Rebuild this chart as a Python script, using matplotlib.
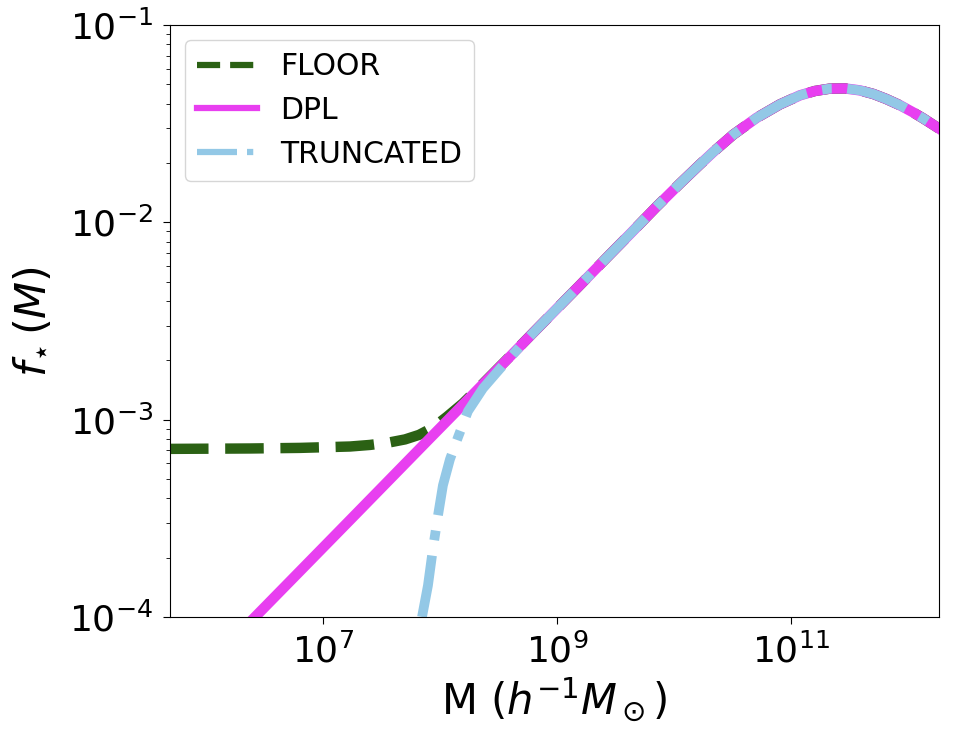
import numpy as np
import matplotlib
matplotlib.use('Agg')
import matplotlib.pyplot as plt
from matplotlib.ticker import NullLocator

# log10 values
# shared upper branch (DPL and TRUNCATED lie on top of each other here)
top_logm = [8.855, 9.054, 9.197, 9.454, 9.625, 9.853, 10.053, 10.224, 10.338,
            10.509, 10.709, 10.908, 11.080, 11.208, 11.336, 11.465, 11.593,
            11.707, 11.816, 11.935, 12.047, 12.135, 12.269]
top_logf = [-2.524, -2.404, -2.318, -2.162, -2.059, -1.920, -1.803, -1.706, -1.643,
            -1.555, -1.470, -1.402, -1.356, -1.334, -1.322, -1.321, -1.331,
            -1.349, -1.374, -1.406, -1.442, -1.473, -1.524]

# low mass ends of each model
floor_logm = [5.688, 6.373, 6.801, 7.229, 7.400, 7.560, 7.700, 7.820, 7.940, 8.059, 8.196, 8.369, 8.598]
floor_logf = [-3.148, -3.146, -3.143, -3.136, -3.128, -3.116, -3.100, -3.077, -3.040, -2.985, -2.917, -2.816, -2.679]

dpl_logm = [6.416, 6.800, 7.230, 7.570, 7.910, 8.230, 8.370, 8.600]
dpl_logf = [-4.0, -3.768, -3.508, -3.302, -3.096, -2.903, -2.818, -2.679]

trunc_logm = [7.845, 7.896, 7.939, 7.982, 8.024, 8.084, 8.153, 8.238, 8.367, 8.512, 8.683]
trunc_logf = [-4.0, -3.840, -3.652, -3.485, -3.333, -3.201, -3.089, -2.957, -2.841, -2.742, -2.630]

labels = ['FLOOR', 'DPL', 'TRUNCATED']
colors = ['#2b6114', '#e83ff0', '#93c8e6']

plt.figure(figsize=(9.62, 7.38), dpi=100)
ax = plt.gca()
plt.subplots_adjust(left=0.1767, right=0.976, top=0.966, bottom=0.164)

m_floor = 10 ** np.array(floor_logm + top_logm)
f_floor = 10 ** np.array(floor_logf + top_logf)
m_dpl = 10 ** np.array(dpl_logm + top_logm)
f_dpl = 10 ** np.array(dpl_logf + top_logf)
m_tr = 10 ** np.array(trunc_logm + top_logm)
f_tr = 10 ** np.array(trunc_logf + top_logf)

plt.plot(m_floor, f_floor, '--', color=colors[0], lw=7.5, label=labels[0])
plt.plot(m_dpl, f_dpl, '-', color=colors[1], lw=7.5, label=labels[1])
plt.plot(m_tr, f_tr, '-.', color=colors[2], lw=7, label=labels[2])

plt.xscale('log')
plt.yscale('log')
plt.xlim(10 ** 5.688, 10 ** 12.269)
plt.ylim(1e-4, 1e-1)
ax.set_xticks([1e7, 1e9, 1e11])
ax.xaxis.set_minor_locator(NullLocator())
ax.tick_params(which='major', labelsize=26, length=5, pad=7)
ax.tick_params(which='minor', length=3)

plt.xlabel(r'M ($h^{-1}M_\odot$)', fontsize=30)
plt.ylabel(r'$f_{\star}\,(M)$', fontsize=31, labelpad=11)

leg = plt.legend(loc='upper left', fontsize=21.5)
for line in leg.get_lines():
    line.set_linewidth(4.5)

plt.savefig('out.png', dpi=100)
